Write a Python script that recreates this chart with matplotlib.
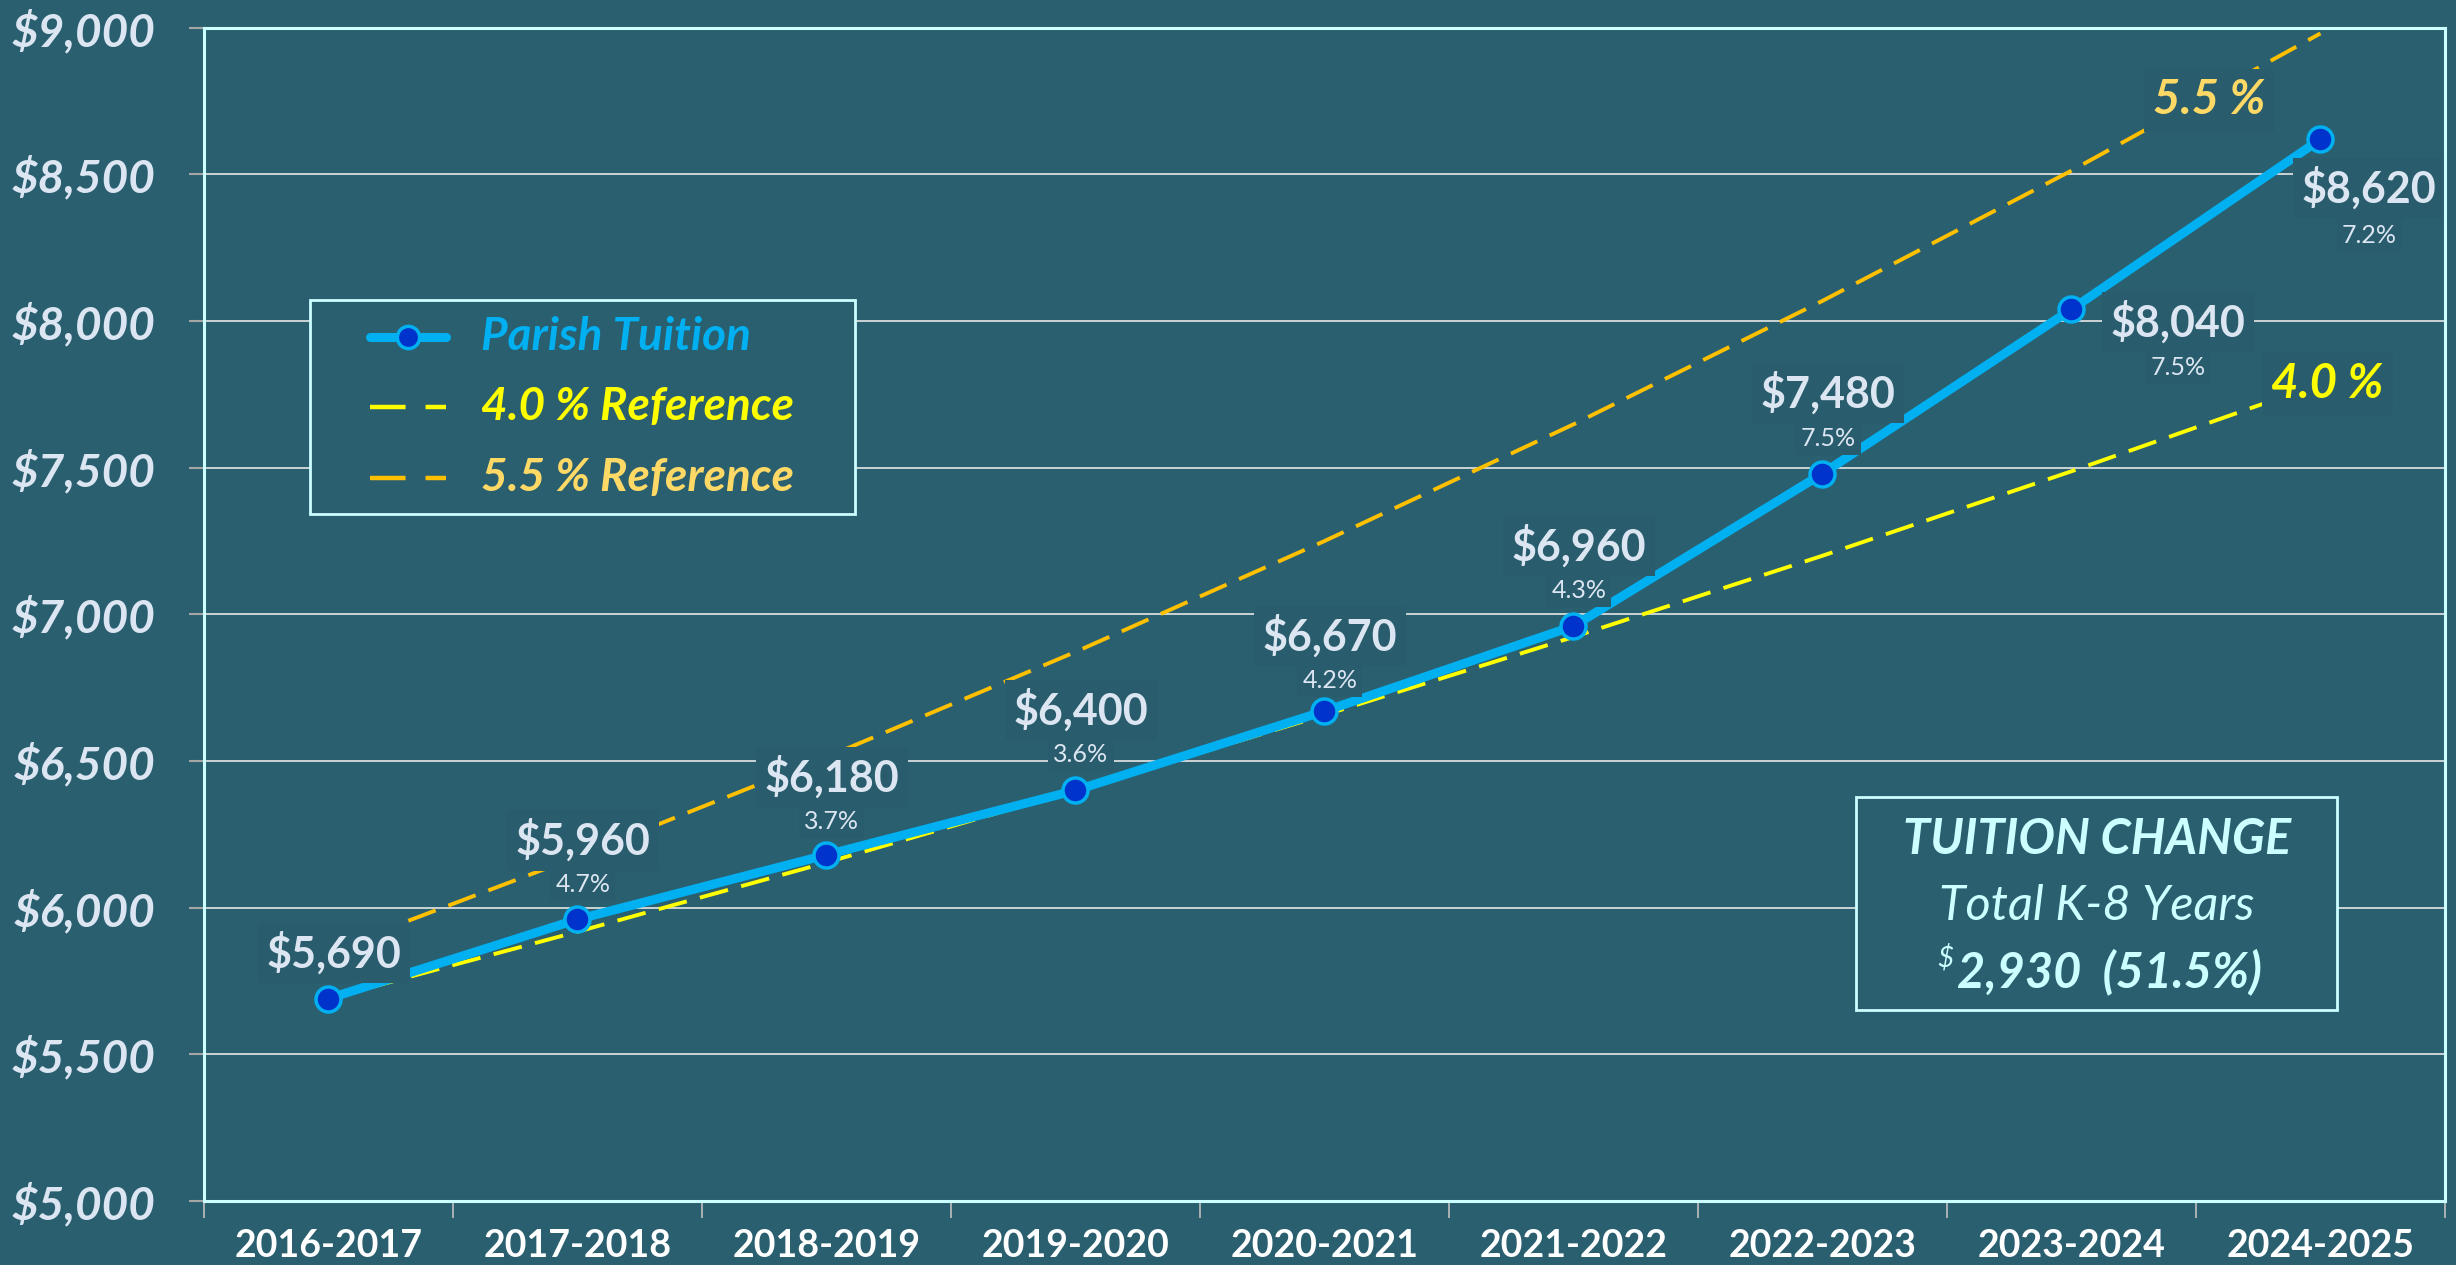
import matplotlib
matplotlib.use('Agg')
import matplotlib.pyplot as plt
from matplotlib.lines import Line2D
from matplotlib.patches import Rectangle
from matplotlib.ticker import FuncFormatter, MultipleLocator

# data
years = ['2016-2017', '2017-2018', '2018-2019', '2019-2020', '2020-2021',
         '2021-2022', '2022-2023', '2023-2024', '2024-2025']
tuition = [5690, 5960, 6180, 6400, 6670, 6960, 7480, 8040, 8620]
pct_change = ['', '4.7%', '3.7%', '3.6%', '4.2%', '4.3%', '7.5%', '7.5%', '7.2%']
ref_40 = [5690, 5918, 6154, 6400, 6657, 6923, 7200, 7488, 7787]
ref_55 = [5852, 6174, 6513, 6872, 7250, 7648, 8069, 8513, 8981]
legend_labels = ['Parish Tuition', '4.0 % Reference', '5.5 % Reference']

BG = '#2A5F70'
BOX = '#295C6C'
CYAN = '#CCFFFF'
BLUE = '#00B0F0'
DOT = '#0033CC'
LABEL = '#DCE6F2'
YEL = '#FFFF00'
ORG = '#FFC000'
ORG_TXT = '#FFD966'
FONT = 'Lato'
W, H = 2456, 1265

plt.rcParams['font.family'] = [FONT, 'DejaVu Sans']

fig = plt.figure(figsize=(W / 100, H / 100), dpi=100, facecolor=BG)
ax = fig.add_axes([0.083, 0.0506, 0.9125, 0.9274], facecolor=BG)

x = list(range(len(years)))
dash = (7.5, 3.5)

ax.plot(x, ref_40, color=YEL, lw=2.8, dashes=dash, zorder=3)
ax.plot(x, ref_55, color=ORG, lw=2.8, dashes=dash, zorder=3)
ax.plot(x, tuition, color=BLUE, lw=6.5, marker='o', ms=18, mfc=DOT,
        mec=BLUE, mew=2.5, zorder=4, solid_capstyle='butt')

ax.set_xlim(-0.5, len(years) - 0.5)
ax.set_ylim(5000, 9000)
ax.yaxis.set_major_locator(MultipleLocator(500))
ax.yaxis.set_major_formatter(FuncFormatter(lambda v, p: f'${v:,.0f}'))
ax.grid(axis='y', color='#E6E6E6', lw=1.2, zorder=1)
ax.set_axisbelow(True)

ax.set_xticks(x)
ax.set_xticklabels(years)
ax.set_xticks([i - 0.5 for i in range(len(years) + 1)], minor=True)
ax.tick_params(axis='x', which='major', length=0, pad=20, labelsize=27,
               labelcolor='white')
ax.tick_params(axis='x', which='minor', length=12, width=1.2, color='#BFBFBF')
ax.tick_params(axis='y', length=11, width=1.5, color='#A6A6A6', pad=24,
               labelsize=33, labelcolor=LABEL)
for lab in ax.get_xticklabels():
    lab.set_fontweight('bold')
for lab in ax.get_yticklabels():
    lab.set_fontweight('bold')
    lab.set_fontstyle('italic')

# spines above the label boxes so the right one is not cut
for s in ax.spines.values():
    s.set_color(CYAN)
    s.set_linewidth(2.2)
    s.set_zorder(7)

box = dict(boxstyle='square,pad=0.2', fc=BOX, ec='none')

# value labels and yearly change
val_off = [(4, 33), (4, 57), (4, 56), (4, 58), (4, 54), (4, 58), (4, 58), (77, -9), (35, -35)]
pct_off = [(4, 0), (4, 25), (4, 24), (4, 26), (4, 22), (4, 26), (4, 25), (77, -42), (35, -69)]
for i, (xi, yi) in enumerate(zip(x, tuition)):
    ax.annotate(f'${yi:,}', (xi, yi), xytext=val_off[i], textcoords='offset points',
                ha='center', va='center', fontsize=31, fontweight='bold',
                color=LABEL, bbox=box, zorder=6)
    if pct_change[i]:
        ax.annotate(pct_change[i], (xi, yi), xytext=pct_off[i], textcoords='offset points',
                    ha='center', va='center', fontsize=18, color=LABEL,
                    bbox=box, zorder=5)

ax.annotate('5.5 %', (x[-1], ref_55[-1]), xytext=(-80, -48), textcoords='offset points',
            ha='center', va='center', fontsize=34, fontweight='bold', fontstyle='italic',
            color=ORG_TXT, bbox=box, zorder=6)
ax.annotate('4.0 %', (x[-1], ref_40[-1]), xytext=(5, 0), textcoords='offset points',
            ha='center', va='center', fontsize=34, fontweight='bold', fontstyle='italic',
            color=YEL, bbox=box, zorder=6)

# legend drawn by hand so the left padding can differ from the top one
fig.patches.append(Rectangle((310 / W, 1 - 514 / H), 545 / W, 214 / H,
                             transform=fig.transFigure, fc=BG, ec=CYAN, lw=2, zorder=8))
rows_y = [337, 407, 478]
styles = [dict(color=BLUE, lw=6.5, solid_capstyle='round'),
          dict(color=YEL, lw=3.2, dashes=(8, 4.5)),
          dict(color=ORG, lw=3.2, dashes=(8, 4.5))]
text_cols = [BLUE, YEL, ORG_TXT]
for ry, st, lab, tc in zip(rows_y, styles, legend_labels, text_cols):
    yy = 1 - ry / H
    fig.add_artist(Line2D([370 / W, 446 / W], [yy, yy], transform=fig.transFigure,
                          zorder=9, **st))
    fig.text(481 / W, yy, lab, ha='left', va='center', fontsize=33, fontweight='bold',
             fontstyle='italic', color=tc, zorder=9)
fig.add_artist(Line2D([408 / W], [1 - rows_y[0] / H], transform=fig.transFigure,
                      marker='o', ms=16, mfc=DOT, mec=BLUE, mew=2.5, ls='none', zorder=10))

# total change box
fig.patches.append(Rectangle((1856 / W, 1 - 1010 / H), 481 / W, 213 / H,
                             transform=fig.transFigure, fc=BG, ec=CYAN, lw=2, zorder=8))
cx = 2097 / W
fig.text(cx, 1 - 840 / H, 'TUITION CHANGE', ha='center', va='center', fontsize=35,
         fontweight='bold', fontstyle='italic', color=CYAN, zorder=9)
fig.text(cx, 1 - 906 / H, 'Total K-8 Years', ha='center', va='center', fontsize=35,
         fontstyle='italic', color=CYAN, zorder=9)
total = tuition[-1] - tuition[0]
total_pct = total / tuition[0] * 100
fig.text(1957 / W, 1 - 972 / H, f'{total:,}  ({total_pct:.1f}%)', ha='left',
         va='center', fontsize=35, fontweight='bold', fontstyle='italic', color=CYAN, zorder=9)
fig.text(1945 / W, 1 - 958 / H, '$', ha='center', va='center', fontsize=20,
         fontstyle='italic', color=CYAN, zorder=9)

fig.savefig('out.png', dpi=100, facecolor=BG)
